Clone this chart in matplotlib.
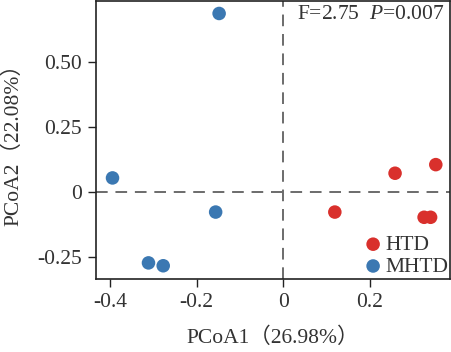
import numpy as np
import matplotlib
matplotlib.use('Agg')
import matplotlib.pyplot as plt

plt.rcParams['font.family'] = ['Liberation Serif', 'Noto Sans CJK SC']
plt.rcParams['mathtext.fontset'] = 'custom'
plt.rcParams['mathtext.it'] = 'Liberation Serif:italic'
plt.rcParams['mathtext.rm'] = 'Liberation Serif'

# PCoA scores
htd_x = [0.352, 0.258, 0.119, 0.325, 0.340]
htd_y = [0.105, 0.072, -0.077, -0.097, -0.097]
mhtd_x = [-0.148, -0.394, -0.156, -0.311, -0.277]
mhtd_y = [0.685, 0.054, -0.077, -0.272, -0.283]

xticks = [-0.4, -0.2, 0, 0.2]
xlabels = ['-0.4', '-0.2', '0', '0.2']
yticks = [-0.25, 0, 0.25, 0.50]
ylabels = ['-0.25', '0', '0.25', '0.50']

fig = plt.figure(figsize=(4.51, 3.52), dpi=100)
ax = fig.add_axes([0.212, 0.208, 0.786, 0.790])

ax.axhline(0, color='#6b6b6b', lw=1.4, ls=(0, (6, 4)), zorder=1)
ax.axvline(0, color='#6b6b6b', lw=1.4, ls=(0, (6, 4)), zorder=1)

ax.scatter(htd_x, htd_y, s=95, color='#d9302c', edgecolors='none', label='HTD', zorder=3)
ax.scatter(mhtd_x, mhtd_y, s=95, color='#3b78b2', edgecolors='none', label='MHTD', zorder=3)

ax.set_xlim(-0.433, 0.385)
ax.set_ylim(-0.333, 0.734)
ax.set_xticks(xticks)
ax.set_xticklabels(xlabels)
ax.set_yticks(yticks)
ax.set_yticklabels(ylabels)
ax.tick_params(labelsize=15.5, length=6, width=1, color='#222222', labelcolor='#333333', pad=4)
for sp in ax.spines.values():
    sp.set_linewidth(1.2)
    sp.set_color('#222222')

ax.set_xlabel('PCoA1（26.98%）', fontsize=15.5, color='#333333', labelpad=11)
ax.set_ylabel('PCoA2（22.08%）', fontsize=15.5, color='#333333', labelpad=10)

ax.text(0.985, 0.985, 'F=2.75  $P$=0.007', transform=ax.transAxes, ha='right', va='top',
        fontsize=15.5, color='#333333')

ax.legend(loc='lower right', frameon=False, fontsize=15.5, handletextpad=-0.1,
          borderaxespad=0.0, labelspacing=0.08, handlelength=1.3, markerscale=1.0,
          borderpad=0.1, labelcolor='#333333')

fig.savefig('out.png', dpi=100)
